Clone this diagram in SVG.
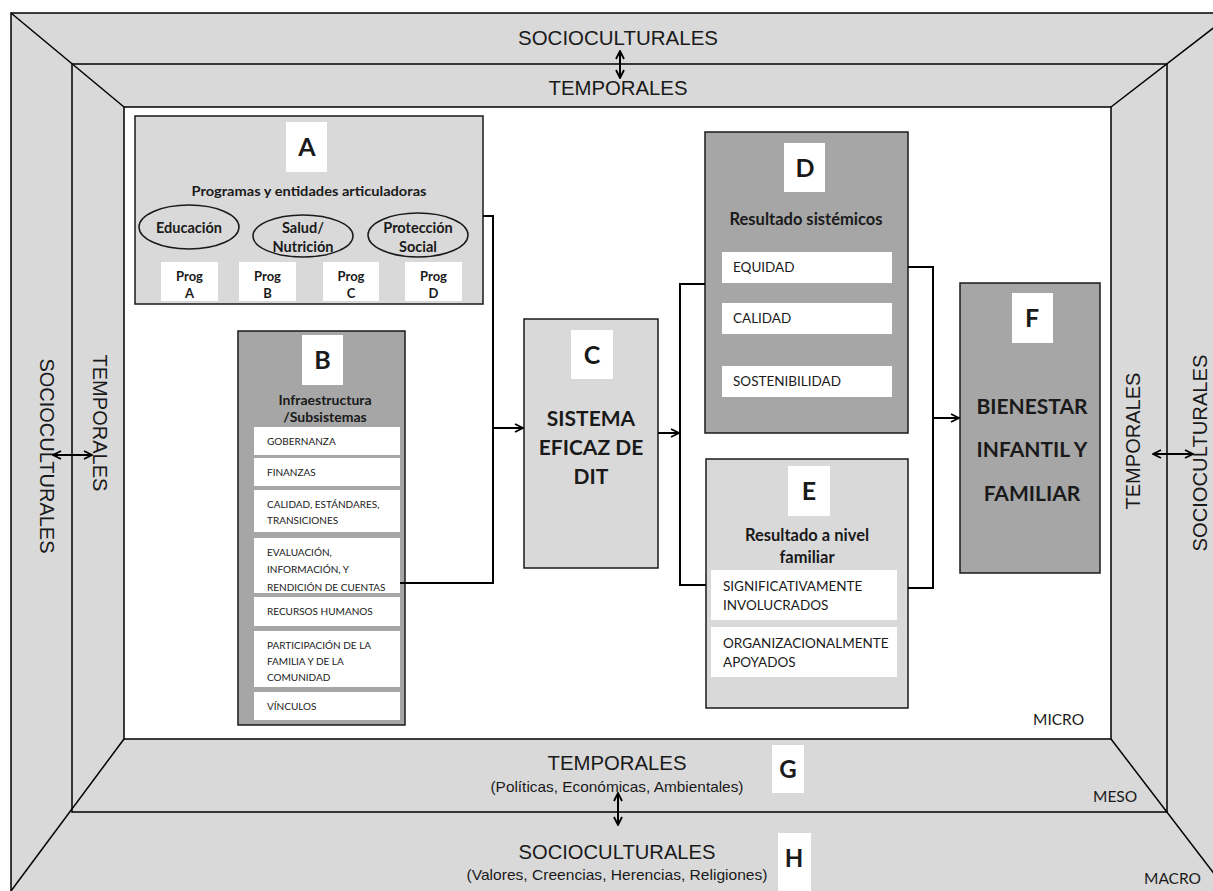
<svg xmlns="http://www.w3.org/2000/svg" width="1213" height="891" viewBox="0 0 1213 891">
<style>
.frame{fill:#d9d9d9;stroke:#000;stroke-width:1.5}
.ln{stroke:#000;stroke-width:1.5;fill:none}
.lt{fill:#d9d9d9;stroke:#1a1a1a;stroke-width:1.5}
.dk{fill:#a6a6a6;stroke:#1a1a1a;stroke-width:1.5}
.wb{fill:#fff;stroke:none}
.ar{font-family:"Liberation Sans",Arial,sans-serif;fill:#1a1a1a}
.cb{font-family:Lato,"Open Sans",sans-serif;fill:#1a1a1a}
.b{font-weight:bold}
.mid{text-anchor:middle}
.con{stroke:#000;stroke-width:2;fill:none}
</style>
<defs>
<marker id="ah" viewBox="0 0 10 10" refX="9" refY="5" markerWidth="10" markerHeight="10" markerUnits="userSpaceOnUse" orient="auto-start-reverse">
<path d="M1,1 L9,5 L1,9" fill="none" stroke="#000" stroke-width="1.8"/>
</marker>
</defs>
<rect x="0" y="0" width="1213" height="891" fill="#fff"/>
<g id="frame">
<rect class="frame" x="11" y="13" width="1230" height="900"/>
<rect class="frame" x="72" y="64" width="1095" height="748"/>
<rect x="124" y="107" width="987" height="632" fill="#fff" stroke="#000" stroke-width="1.5"/>
<line class="ln" x1="11" y1="13" x2="124" y2="107"/>
<line class="ln" x1="1111" y1="107" x2="1225" y2="19"/>
<line class="ln" x1="1111" y1="739" x2="1225" y2="888"/>
<line class="ln" x1="124" y1="739" x2="11" y2="891"/>
<text class="ar mid" x="618" y="45" font-size="21" textLength="200" lengthAdjust="spacingAndGlyphs">SOCIOCULTURALES</text>
<text class="ar mid" x="618" y="95" font-size="21" textLength="139" lengthAdjust="spacingAndGlyphs">TEMPORALES</text>
<text class="ar mid" transform="translate(47,456) rotate(90)" x="0" y="7" font-size="21" textLength="195" lengthAdjust="spacingAndGlyphs">SOCIOCULTURALES</text>
<text class="ar mid" transform="translate(100,423) rotate(90)" x="0" y="7" font-size="21" textLength="137" lengthAdjust="spacingAndGlyphs">TEMPORALES</text>
<text class="ar mid" transform="translate(1133,441) rotate(-90)" x="0" y="7" font-size="21" textLength="137" lengthAdjust="spacingAndGlyphs">TEMPORALES</text>
<text class="ar mid" transform="translate(1200,453) rotate(-90)" x="0" y="7" font-size="21" textLength="197" lengthAdjust="spacingAndGlyphs">SOCIOCULTURALES</text>
<text class="cb" x="1033" y="725" font-size="15.5">MICRO</text>
<text class="cb" x="1093" y="802" font-size="15.5">MESO</text>
<text class="cb" x="1144" y="884" font-size="15.5">MACRO</text>
</g>
<g id="G">
<text class="ar mid" x="617" y="770" font-size="21" textLength="139" lengthAdjust="spacingAndGlyphs">TEMPORALES</text>
<text class="ar mid" x="617" y="792" font-size="15" textLength="253" lengthAdjust="spacingAndGlyphs">(Políticas, Económicas, Ambientales)</text>
<rect class="wb" x="772" y="745" width="32" height="48"/>
<text class="cb b mid" x="788" y="778" font-size="24">G</text>
</g>
<g id="H">
<text class="ar mid" x="617" y="859" font-size="21" textLength="197" lengthAdjust="spacingAndGlyphs">SOCIOCULTURALES</text>
<text class="ar mid" x="617" y="880" font-size="15" textLength="301" lengthAdjust="spacingAndGlyphs">(Valores, Creencias, Herencias, Religiones)</text>
<rect class="wb" x="778" y="833" width="33" height="60"/>
<text class="cb b mid" x="794" y="867" font-size="24">H</text>
</g>
<g id="A">
<rect class="lt" x="135" y="116" width="348" height="188"/>
<rect class="wb" x="286" y="122" width="41" height="50"/>
<text class="cb b mid" x="307" y="156" font-size="25">A</text>
<text class="cb b mid" x="309" y="196" font-size="13.5" textLength="235" lengthAdjust="spacingAndGlyphs">Programas y entidades articuladoras</text>
<ellipse cx="189" cy="227" rx="50" ry="22" fill="none" stroke="#1a1a1a" stroke-width="1.5"/>
<ellipse cx="303" cy="236" rx="50" ry="21" fill="none" stroke="#1a1a1a" stroke-width="1.5"/>
<ellipse cx="418" cy="235" rx="50" ry="22" fill="none" stroke="#1a1a1a" stroke-width="1.5"/>
<g class="cb b mid" font-size="14.5">
<text x="189" y="233">Educación</text>
<text x="303" y="233">Salud/</text>
<text x="303" y="252">Nutrición</text>
<text x="418" y="233">Protección</text>
<text x="418" y="252">Social</text>
</g>
<rect class="wb" x="161" y="262" width="57" height="39"/>
<rect class="wb" x="239" y="262" width="57" height="39"/>
<rect class="wb" x="323" y="262" width="56" height="39"/>
<rect class="wb" x="405" y="262" width="57" height="39"/>
<g class="cb b mid" font-size="13">
<text x="189.5" y="281">Prog</text><text x="189.5" y="298">A</text>
<text x="267.5" y="281">Prog</text><text x="267.5" y="298">B</text>
<text x="351" y="281">Prog</text><text x="351" y="298">C</text>
<text x="433.5" y="281">Prog</text><text x="433.5" y="298">D</text>
</g>
</g>
<g id="B">
<rect class="dk" x="238" y="331" width="167" height="394"/>
<rect class="wb" x="302" y="335" width="41" height="50"/>
<text class="cb b mid" x="322.5" y="369" font-size="25">B</text>
<text class="cb b mid" x="325" y="405" font-size="14">Infraestructura</text>
<text class="cb b mid" x="325" y="422" font-size="14">/Subsistemas</text>
<rect class="wb" x="254" y="427" width="146" height="28"/>
<rect class="wb" x="254" y="458" width="146" height="28"/>
<rect class="wb" x="254" y="490" width="146" height="42"/>
<rect class="wb" x="254" y="538" width="146" height="55"/>
<rect class="wb" x="254" y="597" width="146" height="29"/>
<rect class="wb" x="254" y="631" width="146" height="56"/>
<rect class="wb" x="254" y="692" width="146" height="28"/>
<g class="cb" font-size="10">
<text x="267" y="445">GOBERNANZA</text>
<text x="267" y="476">FINANZAS</text>
<text x="267" y="508">CALIDAD, ESTÁNDARES,</text>
<text x="267" y="524">TRANSICIONES</text>
<text x="267" y="556">EVALUACIÓN,</text>
<text x="267" y="573">INFORMACIÓN, Y</text>
<text x="267" y="591">RENDICIÓN DE CUENTAS</text>
<text x="267" y="615">RECURSOS HUMANOS</text>
<text x="267" y="649">PARTICIPACIÓN DE LA</text>
<text x="267" y="665">FAMILIA Y DE LA</text>
<text x="267" y="681">COMUNIDAD</text>
<text x="267" y="710">VÍNCULOS</text>
</g>
</g>
<g id="C">
<rect class="lt" x="524" y="319" width="134" height="249"/>
<rect class="wb" x="571" y="330" width="42" height="49"/>
<text class="cb b mid" x="592" y="364" font-size="25">C</text>
<g class="cb b mid" font-size="21">
<text x="591" y="426">SISTEMA</text>
<text x="591" y="455">EFICAZ DE</text>
<text x="591" y="484">DIT</text>
</g>
</g>
<g id="D">
<rect class="dk" x="705" y="132" width="203" height="301"/>
<rect class="wb" x="784" y="143" width="41" height="49"/>
<text class="cb b mid" x="805" y="177" font-size="25">D</text>
<text class="cb b mid" x="806" y="225" font-size="16.5">Resultado sistémicos</text>
<rect class="wb" x="722" y="252" width="170" height="31"/>
<rect class="wb" x="722" y="303" width="170" height="31"/>
<rect class="wb" x="722" y="366" width="170" height="31"/>
<g class="cb" font-size="13.5">
<text x="733" y="272">EQUIDAD</text>
<text x="733" y="323">CALIDAD</text>
<text x="733" y="386">SOSTENIBILIDAD</text>
</g>
</g>
<g id="E">
<rect class="lt" x="706" y="459" width="202" height="249"/>
<rect class="wb" x="788" y="466" width="42" height="50"/>
<text class="cb b mid" x="809" y="500" font-size="25">E</text>
<text class="cb b mid" x="807" y="541" font-size="16.5">Resultado a nivel</text>
<text class="cb b mid" x="807" y="563" font-size="16.5">familiar</text>
<rect class="wb" x="711" y="570" width="186" height="50"/>
<rect class="wb" x="711" y="627" width="186" height="50"/>
<g class="cb" font-size="13.5">
<text x="723" y="591">SIGNIFICATIVAMENTE</text>
<text x="723" y="610">INVOLUCRADOS</text>
<text x="723" y="648">ORGANIZACIONALMENTE</text>
<text x="723" y="667">APOYADOS</text>
</g>
</g>
<g id="F">
<rect class="dk" x="960" y="283" width="140" height="290"/>
<rect class="wb" x="1012" y="293" width="41" height="50"/>
<text class="cb b mid" x="1032" y="327" font-size="25">F</text>
<g class="cb b mid" font-size="21">
<text x="1032" y="414">BIENESTAR</text>
<text x="1032" y="457">INFANTIL Y</text>
<text x="1032" y="501">FAMILIAR</text>
</g>
</g>
<g id="connectors">
<polyline class="con" points="483,216 493,216 493,583 400,583"/>
<line class="con" x1="493" y1="428" x2="523" y2="428" marker-end="url(#ah)"/>
<line class="con" x1="658" y1="433" x2="679" y2="433" marker-end="url(#ah)"/>
<polyline class="con" points="705,284 680,284 680,585 706,585"/>
<polyline class="con" points="908,267 933,267 933,588 908,588"/>
<line class="con" x1="933" y1="418" x2="959" y2="418" marker-end="url(#ah)"/>
<line class="con" x1="620" y1="51" x2="620" y2="78" marker-start="url(#ah)" marker-end="url(#ah)"/>
<line class="con" x1="53" y1="455" x2="92" y2="455" marker-start="url(#ah)" marker-end="url(#ah)"/>
<line class="con" x1="1153" y1="454" x2="1193" y2="454" marker-start="url(#ah)" marker-end="url(#ah)"/>
<line class="con" x1="618" y1="793" x2="618" y2="825" marker-start="url(#ah)" marker-end="url(#ah)"/>
</g>
</svg>
